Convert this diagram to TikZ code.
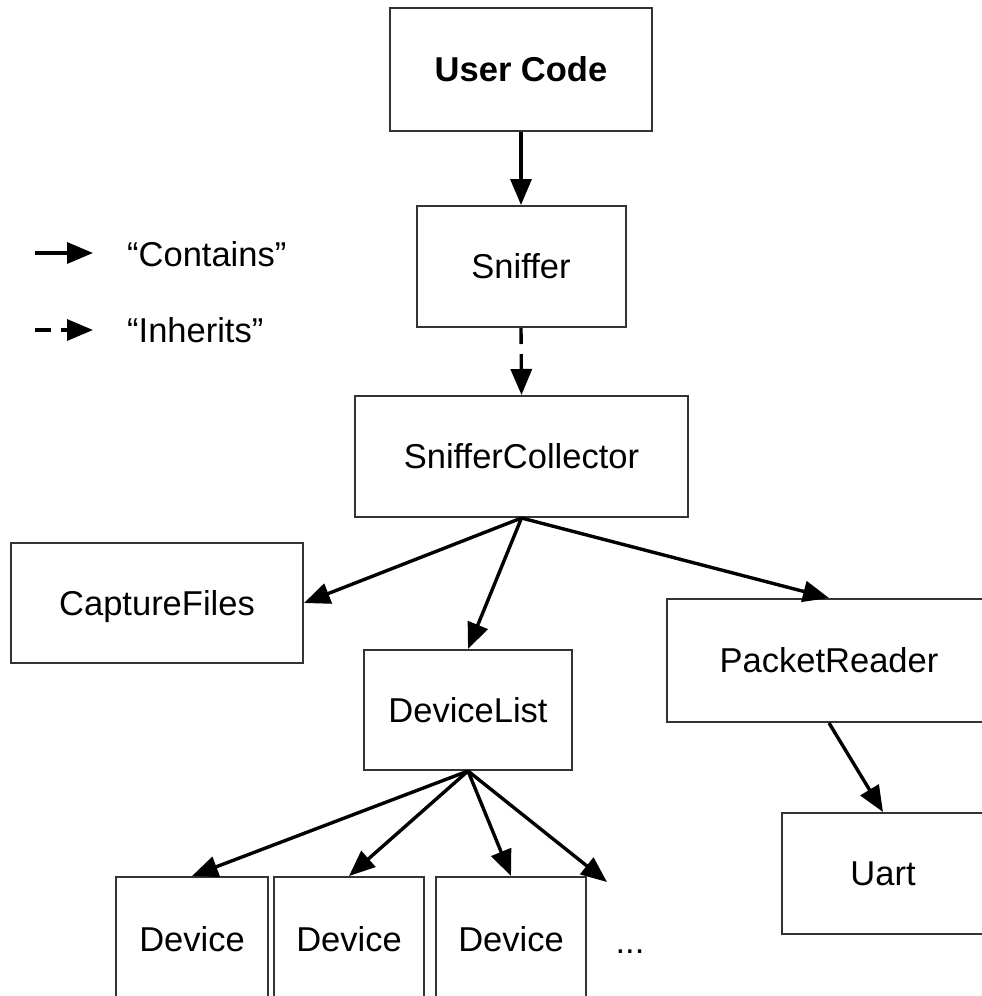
\documentclass[tikz,border=0pt]{standalone}
\usepackage{fontspec}
\setmainfont{Liberation Sans}
\usetikzlibrary{arrows.meta}
\tikzset{
  box/.style={draw=black!80, line width=2pt, fill=none, inner sep=0pt,
    font=\fontsize{34.5pt}{40pt}\selectfont, text height=24.7pt, text depth=0pt},
  conn/.style={line width=3.4pt, -{Triangle[length=26pt,width=21pt]}, shorten >=0pt},
  inh/.style={conn, dash pattern=on 16pt off 10pt},
  lbl/.style={inner sep=0pt, font=\fontsize{34.5pt}{40pt}\selectfont, text height=24.7pt, text depth=0pt}
}
\begin{document}
\begin{tikzpicture}[x=1pt,y=-1pt]
\useasboundingbox (0,0) rectangle (982,996);
\clip (0,0) rectangle (982,996);
\fill[white] (0,0) rectangle (982,996);
% nodes
\node[box, minimum width=262pt, minimum height=123pt] (uc) at (521,69.5) {\textbf{User Code}};
\node[box, minimum width=209pt, minimum height=121pt] (sn) at (521,266.5) {Sniffer};
\node[box, minimum width=333pt, minimum height=121pt] (sc) at (521.5,456.5) {SnifferCollector};
\node[box, minimum width=292pt, minimum height=120pt] (cf) at (157,603) {CaptureFiles};
\node[box, minimum width=208pt, minimum height=120pt] (dl) at (468,710) {DeviceList};
\node[box, minimum width=324pt, minimum height=123pt] (pr) at (829,660.5) {PacketReader};
\node[box, minimum width=202pt, minimum height=121pt] (ua) at (883,873.5) {Uart};
\node[box, minimum width=152pt, minimum height=124pt] (d1) at (192,939) {Device};
\node[box, minimum width=150pt, minimum height=124pt] (d2) at (349,939) {Device};
\node[box, minimum width=150pt, minimum height=124pt] (d3) at (511,939) {Device};
\node[lbl] (dots) at (630,941) {...};
\coordinate (more) at (607,882);
% legend
\coordinate (c1) at (35,253);
\coordinate (c2) at (93,253);
\coordinate (i1) at (35,330);
\coordinate (i2) at (93,330);
\node[lbl, anchor=west] (lc) at (127,254.5) {“Contains”};
\node[lbl, anchor=west] (li) at (127,330) {“Inherits”};
\draw[conn] (c1) -- (c2);
\draw[inh] (i1) -- (i2);
% connectors
\draw[conn] (uc.south) -- (sn.north);
\draw[inh] (sn.south) -- (sc.north);
\draw[conn] (sc.south) -- (cf.east);
\draw[conn] (sc.south) -- (dl.north);
\draw[conn] (sc.south) -- (pr.north);
\draw[conn] (pr.south) -- (ua.north);
\draw[conn] (dl.south) -- (d1.north);
\draw[conn] (dl.south) -- (d2.north);
\draw[conn] (dl.south) -- (d3.north);
\draw[conn] (dl.south) -- (more);
\end{tikzpicture}
\end{document}
